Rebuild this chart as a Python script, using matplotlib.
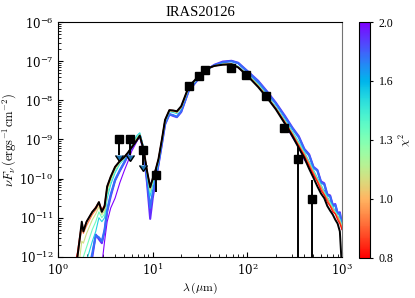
import numpy as np
import matplotlib
matplotlib.use('Agg')
import matplotlib.pyplot as plt
from matplotlib.colors import LogNorm
from matplotlib.cm import ScalarMappable
from matplotlib.ticker import FixedLocator, FixedFormatter, NullFormatter

plt.rcParams['font.family'] = 'DejaVu Serif'
plt.rcParams['mathtext.fontset'] = 'dejavuserif'

# model wavelength grid (micron)
lam = [1.5, 1.6, 1.7, 1.78, 1.85, 2.0, 2.3, 2.5, 2.7, 2.9, 3.1, 3.3, 3.6, 4.0, 4.5,
       5.0, 5.5, 6.0, 6.8, 7.3, 8.0, 8.7, 9.4, 10.0, 10.8, 11.5, 12.5, 13.5, 15, 16.5,
       18, 20, 24, 30, 36, 45, 55, 68, 80, 100, 130, 160, 200, 250, 300,
       350, 400, 450, 500, 550, 600, 650, 700, 750, 800, 850, 900, 950, 1000]

# best fit (log10 nuFnu)
best_fit = [-12.3, -12.0, -11.5, -11.1, -11.35, -11.1, -10.85, -10.75, -10.6, -10.85, -10.7, -10.2, -9.95, -9.7, -9.55,
            -9.45, -9.33, -9.2, -9.02, -8.9, -9.25, -9.8, -10.22, -10.0, -9.75, -9.5, -9.0, -8.5, -8.25, -8.26,
            -8.28, -8.15, -7.65, -7.4, -7.2, -7.12, -7.09, -7.08, -7.16, -7.37, -7.66, -7.92, -8.23, -8.6, -8.92,
            -9.22, -9.47, -9.75, -9.98, -10.2, -10.38, -10.5, -10.7, -10.82, -10.92, -11.05, -11.15, -11.35, -12.3]

# other fits and their chi2
chi2_fits = [2.0, 1.9, 1.75, 1.5, 1.3, 1.1, 0.92, 0.82]
fits = [
    [-14, -14, -14, -14, -14, -14, -14, -14, -13.5, -12.2, -11.6, -11.1, -10.75, -10.5, -10.1,
     -9.8, -9.55, -9.3, -9.05, -8.9, -9.3, -10.05, -10.9, -10.45, -10.0, -9.65, -9.1, -8.6, -8.35, -8.38,
     -8.42, -8.28, -7.75, -7.46, -7.24, -7.1, -7.02, -7.0, -7.06, -7.28, -7.56, -7.85, -8.2, -8.6, -8.95,
     -9.2, -9.52, -9.68, -9.95, -10.0, -10.3, -10.3, -10.55, -10.58, -10.78, -10.8, -11.0, -11.0, -11.3],
    [-14, -14, -14, -14, -13.8, -12.8, -12.0, -11.43, -11.55, -11.65, -11.35, -10.85, -10.45, -10.05, -9.8,
     -9.6, -9.4, -9.22, -9.02, -8.9, -9.28, -10.1, -11.03, -10.5, -10.0, -9.65, -9.12, -8.62, -8.36, -8.4,
     -8.43, -8.3, -7.76, -7.47, -7.24, -7.09, -7.01, -6.99, -7.04, -7.25, -7.5, -7.76, -8.06, -8.4, -8.7,
     -8.92, -9.24, -9.38, -9.7, -9.78, -10.07, -10.12, -10.4, -10.43, -10.67, -10.65, -10.88, -10.86, -11.15],
    [-14, -14, -14, -14, -13.5, -12.6, -11.9, -11.45, -11.5, -11.6, -11.3, -10.8, -10.4, -10.03, -9.78,
     -9.58, -9.38, -9.2, -9.0, -8.88, -9.25, -10.0, -10.75, -10.35, -9.95, -9.62, -9.1, -8.6, -8.35, -8.38,
     -8.42, -8.28, -7.75, -7.46, -7.24, -7.1, -7.03, -7.0, -7.05, -7.26, -7.52, -7.78, -8.08, -8.43, -8.72,
     -8.95, -9.26, -9.41, -9.72, -9.8, -10.1, -10.15, -10.42, -10.46, -10.7, -10.68, -10.9, -10.9, -11.2],
    [-14, -14, -13.5, -13.0, -12.6, -12.1, -11.6, -11.35, -11.0, -11.1, -11.0, -10.5, -10.15, -9.85, -9.62,
     -9.5, -9.33, -9.15, -8.9, -8.83, -9.2, -9.9, -10.45, -10.15, -9.85, -9.57, -9.05, -8.55, -8.29, -8.31,
     -8.34, -8.2, -7.7, -7.43, -7.22, -7.12, -7.07, -7.05, -7.13, -7.32, -7.58, -7.85, -8.16, -8.5, -8.8,
     -9.07, -9.32, -9.56, -9.78, -9.98, -10.15, -10.33, -10.46, -10.6, -10.72, -10.83, -10.93, -11.03, -11.2],
    [-13.5, -13.2, -12.6, -12.1, -12.0, -11.75, -11.3, -11.1, -10.85, -11.0, -10.9, -10.4, -10.08, -9.8, -9.6,
     -9.48, -9.33, -9.17, -8.95, -8.86, -9.22, -9.85, -10.35, -10.08, -9.8, -9.54, -9.03, -8.53, -8.28, -8.29,
     -8.32, -8.19, -7.69, -7.43, -7.22, -7.12, -7.08, -7.06, -7.14, -7.33, -7.6, -7.87, -8.18, -8.53, -8.83,
     -9.1, -9.35, -9.6, -9.82, -10.02, -10.18, -10.36, -10.5, -10.62, -10.75, -10.85, -10.95, -11.05, -11.2],
    [-12.8, -12.5, -12.0, -11.6, -11.65, -11.4, -11.05, -10.9, -10.72, -10.92, -10.82, -10.3, -10.02, -9.75, -9.58,
     -9.47, -9.33, -9.18, -8.98, -8.88, -9.22, -9.82, -10.3, -10.05, -9.78, -9.52, -9.02, -8.52, -8.27, -8.28,
     -8.31, -8.18, -7.68, -7.42, -7.21, -7.12, -7.08, -7.07, -7.15, -7.35, -7.63, -7.89, -8.2, -8.55, -8.86,
     -9.14, -9.38, -9.62, -9.85, -10.05, -10.22, -10.4, -10.52, -10.68, -10.78, -10.9, -10.98, -11.1, -11.25],
    [-12.4, -12.1, -11.6, -11.25, -11.4, -11.2, -10.92, -10.8, -10.65, -10.85, -10.75, -10.25, -9.98, -9.72, -9.56,
     -9.46, -9.33, -9.19, -9.0, -8.9, -9.24, -9.8, -10.25, -10.02, -9.76, -9.5, -9.0, -8.5, -8.26, -8.27,
     -8.3, -8.17, -7.67, -7.41, -7.21, -7.12, -7.08, -7.07, -7.15, -7.35, -7.63, -7.89, -8.2, -8.55, -8.86,
     -9.14, -9.38, -9.62, -9.85, -10.05, -10.22, -10.4, -10.52, -10.68, -10.78, -10.9, -10.98, -11.1, -11.25],
    [-12.2, -11.9, -11.45, -11.15, -11.3, -11.1, -10.85, -10.73, -10.6, -10.8, -10.68, -10.2, -9.95, -9.7, -9.55,
     -9.45, -9.33, -9.2, -9.02, -8.92, -9.25, -9.8, -10.2, -10.0, -9.75, -9.5, -9.0, -8.5, -8.25, -8.26,
     -8.29, -8.16, -7.66, -7.41, -7.21, -7.12, -7.09, -7.08, -7.16, -7.37, -7.65, -7.91, -8.21, -8.57, -8.88,
     -9.17, -9.42, -9.68, -9.9, -10.08, -10.3, -10.42, -10.6, -10.7, -10.85, -10.9, -11.05, -11.15, -11.3],
]
fit_lw = [0.8, 1.5, 1.5, 0.8, 0.8, 0.8, 0.8, 0.9]

# observations
lam_obs = [4.4, 5.8, 7.9, 10.8, 24, 31, 36, 68, 97, 156, 242, 342, 485]
flux_obs = [1.0e-9, 1.0e-9, 5.3e-10, 1.25e-10, 2.3e-8, 4.3e-8, 6.0e-8, 6.6e-8, 4.4e-8, 1.3e-8, 2.0e-9, 3.2e-10, 3.0e-11]
err_lo = [0, 0, 0, 0.79e-10, 0, 0, 0, 0, 0, 0, 0, 3.197e-10, 2.997e-11]
err_hi = [0, 0, 0, 0.65e-10, 0, 0, 0, 0, 0, 0, 0, 3.1e-10, 6.3e-11]
# upper limits (arrow length)
lam_ul = [4.4, 5.8, 7.9]
flux_ul = [1.0e-9, 1.0e-9, 5.3e-10]
ul_len = [0.6e-9, 0.6e-9, 3.1e-10]

cmap = plt.get_cmap('rainbow_r')
norm = LogNorm(vmin=0.8, vmax=2.0)

fig = plt.figure(figsize=(4.15, 2.98), dpi=100)
ax = fig.add_axes([0.14, 0.138, 0.684, 0.788])
cax = fig.add_axes([0.865, 0.135, 0.027, 0.791])

lam_arr = np.array(lam)
for c, f, lw in zip(chi2_fits, fits, fit_lw):
    ax.plot(lam_arr, 10.0 ** np.array(f), color=cmap(norm(c)), lw=lw)
ax.plot(lam_arr, 10.0 ** np.array(best_fit), color='k', lw=1.4)

ax.errorbar(lam_obs, flux_obs, yerr=[err_lo, err_hi], fmt='s', color='k', ms=6,
            elinewidth=1.4, capsize=0, zorder=5)
ax.errorbar(lam_ul, flux_ul, yerr=[ul_len, [0, 0, 0]], uplims=True, fmt='none',
            ecolor='k', elinewidth=1.4, capsize=3, zorder=5)

ax.set_xscale('log')
ax.set_yscale('log')
ax.set_xlim(1, 1000)
ax.set_ylim(1e-12, 1e-6)
ax.xaxis.set_minor_formatter(NullFormatter())
ax.yaxis.set_minor_formatter(NullFormatter())
ax.tick_params(which='both', direction='in', labelsize=8.5)
ax.tick_params(which='major', length=3.5)
ax.tick_params(which='minor', length=2)
ax.spines['right'].set_color('0.45')

ax.set_title('IRAS20126', fontsize=10.5, family='Liberation Serif', pad=4)
ax.set_xlabel(r'$\lambda\,(\mu\rm m)$', fontsize=8.5, math_fontfamily='cm', labelpad=2)
ax.set_ylabel(r'$\nu F_\nu\,(\rm ergs^{-1}cm^{-2})$', fontsize=9, math_fontfamily='cm', labelpad=1)

sm = ScalarMappable(norm=norm, cmap=cmap)
cb = fig.colorbar(sm, cax=cax)
cb_ticks = [0.8 * 2.5 ** (k / 4.0) for k in range(5)]
cb.ax.yaxis.set_major_locator(FixedLocator(cb_ticks))
cb.ax.yaxis.set_major_formatter(FixedFormatter(['%.1f' % t for t in cb_ticks]))
cb.ax.yaxis.set_minor_locator(FixedLocator([]))
cb.ax.tick_params(labelsize=8.5, length=2.5)
for t in cb.ax.get_yticklabels():
    t.set_family('Liberation Serif')
cb.set_label(r'$\chi^2$', fontsize=8.5, math_fontfamily='cm', labelpad=2)

fig.savefig('out.png', dpi=100)
